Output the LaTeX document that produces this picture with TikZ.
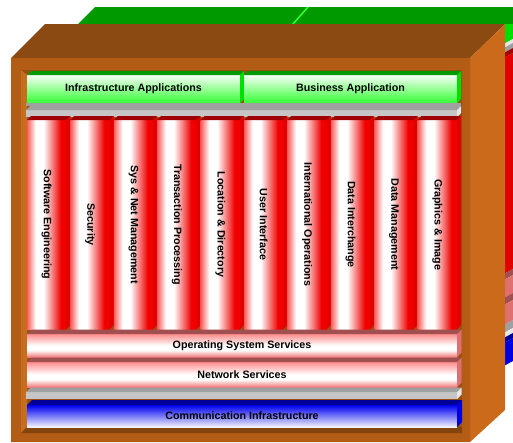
\documentclass[tikz,border=0pt]{standalone}
\usepackage{fontspec}
\setmainfont{Liberation Sans}
\definecolor{caseFront}{HTML}{B25C15}
\definecolor{caseTop}{HTML}{8B4A12}
\definecolor{caseSide}{HTML}{CA6A1A}
\definecolor{caseWall}{HTML}{C46E1E}
\definecolor{caseFloor}{HTML}{9A5010}
\definecolor{gTop}{HTML}{009900}
\definecolor{gSide}{HTML}{00E000}
\definecolor{gFace}{HTML}{33FF33}
\definecolor{gLight}{HTML}{F6FFF6}
\definecolor{shTop}{HTML}{A0A0A0}
\definecolor{shFace}{HTML}{C6C6C6}
\definecolor{shEnd}{HTML}{E8E8E8}
\definecolor{rTop}{HTML}{A00000}
\definecolor{rSide}{HTML}{E00000}
\definecolor{cylL}{HTML}{FF5A5A}
\definecolor{cylR}{HTML}{F00000}
\definecolor{pTop}{HTML}{A05050}
\definecolor{pSide}{HTML}{E07070}
\definecolor{pinkT}{HTML}{FF8C8C}
\definecolor{pinkB}{HTML}{F07878}
\definecolor{bTop}{HTML}{000099}
\definecolor{bSide}{HTML}{0000E0}
\definecolor{bFace}{HTML}{0000F0}
\definecolor{bLight}{HTML}{F4F4FF}
\pgfdeclarehorizontalshading{cyl}{100bp}{color(0bp)=(cylL); color(25bp)=(cylL); color(36bp)=(white); color(46bp)=(white); color(68bp)=(cylR); color(75bp)=(cylR); color(100bp)=(cylR)}
\pgfdeclareverticalshading{pinkbar}{100bp}{color(0bp)=(pinkB); color(25bp)=(pinkB); color(40bp)=(white); color(50bp)=(white); color(75bp)=(pinkT); color(100bp)=(pinkT)}
\newcommand{\boxtop}[3]{\fill[#3] (#1.north west) -- ++(#2,-#2) -- ([shift={(#2,-#2)}]#1.north east) -- (#1.north east) -- cycle;}
\newcommand{\boxside}[3]{\fill[#3] (#1.north east) -- ++(#2,-#2) -- ([shift={(#2,-#2)}]#1.south east) -- (#1.south east) -- cycle;}
\newcommand{\lblfont}{\fontsize{10.7}{12}\selectfont\bfseries}
\begin{document}
\begin{tikzpicture}[x=1pt,y=-1pt,
  face/.style={draw=none, inner sep=0pt, outer sep=0pt, anchor=north west, font=\lblfont, text=black},
  greenface/.style={face, top color=gLight, bottom color=gFace},
  blueface/.style={face, top color=bFace, bottom color=bLight},
  pinkface/.style={face, shading=pinkbar},
  redcol/.style={face, shading=cyl},
  shelf/.style={face, fill=shFace},
  lbl/.style={font=\lblfont, text=black, inner sep=0pt}]
\useasboundingbox (0,0) rectangle (513,442);
% ---- back bookcase (partly hidden)
\fill[gTop] (78,24) -- (95,7) -- (513,7) -- (513,24) -- cycle;
\draw[gFace, line width=1.5pt] (293,24) -- (308,7);
\fill[gSide] (500,24) -- (513,24) -- (513,39) -- (500,46) -- cycle;
\foreach \ya/\yb/\c in {46/50/shEnd, 50/55/shTop, 55/60/rTop, 60/276/rSide, 276/282/pTop, 282/300/pSide, 300/307/pTop, 307/327/pSide, 327/335/shTop, 335/340/shEnd, 340/345/bTop, 345/368/bSide}{
  \fill[\c] (500,\ya) -- (513,{\ya-7}) -- (513,{\yb-7}) -- (500,\yb) -- cycle;
}
% ---- front bookcase
\fill[caseTop] (11,58) -- (45,24) -- (505,24) -- (470,58) -- cycle;
\fill[caseSide] (470,58) -- (505,24) -- (505,410) -- (470,442) -- cycle;
\fill[caseFront, even odd rule] (11,58) rectangle (470,442) (21,70) rectangle (462,433);
\fill[caseFloor] (21,70) rectangle (462,433);
\fill[caseWall] (21,70) -- (27,75) -- (27,427) -- (21,433) -- cycle;
\fill[caseFloor!85!black] (21,433) -- (27,427) -- (462,427) -- (462,433) -- cycle;
% ---- green applications
\node[greenface, minimum width=213pt, minimum height=28pt] (infra) at (27,75) {Infrastructure Applications};
\boxtop{infra}{4}{gTop}\boxside{infra}{4}{gSide}
\node[greenface, minimum width=213pt, minimum height=28pt] (bus) at (244,75) {Business Application};
\boxtop{bus}{4}{gTop}\boxside{bus}{4}{gSide}
% ---- upper shelf
\fill[shTop] (26,103) rectangle (461,106);
\node[shelf, minimum width=431pt, minimum height=7pt] (sh1) at (26,110) {};
\boxtop{sh1}{4}{shTop}\boxside{sh1}{4}{shEnd}
% ---- red columns
\foreach \i/\t in {0/Software Engineering, 1/Security, 2/Sys \& Net Management, 3/Transaction Processing, 4/Location \& Directory, 5/User Interface, 6/International Operations, 7/Data Interchange, 8/Data Management, 9/Graphics \& Image}{
  \node[redcol, minimum width=39.4pt, minimum height=209pt] (c\i) at ({27+43.4*\i},120) {};
  \boxtop{c\i}{4}{rTop}\boxside{c\i}{4}{rSide}
  \node[lbl, rotate=-90] (t\i) at (c\i.center) {\t};
}
% ---- services
\node[pinkface, minimum width=430pt, minimum height=23pt] (os) at (27,334) {Operating System Services};
\boxtop{os}{4.5}{pTop}\boxside{os}{4.5}{pSide}
\node[pinkface, minimum width=430pt, minimum height=25pt] (ns) at (27,362) {Network Services};
\boxtop{ns}{4.5}{pTop}\boxside{ns}{4.5}{pSide}
% ---- lower shelf
\node[shelf, minimum width=431pt, minimum height=7pt] (sh2) at (26,392) {};
\boxtop{sh2}{4.5}{shTop}\boxside{sh2}{4.5}{shEnd}
% ---- communication
\node[blueface, minimum width=430pt, minimum height=22pt] (comm) at (27,405) {Communication Infrastructure};
\boxtop{comm}{5}{bTop}\boxside{comm}{5}{bSide}
\end{tikzpicture}
\end{document}
